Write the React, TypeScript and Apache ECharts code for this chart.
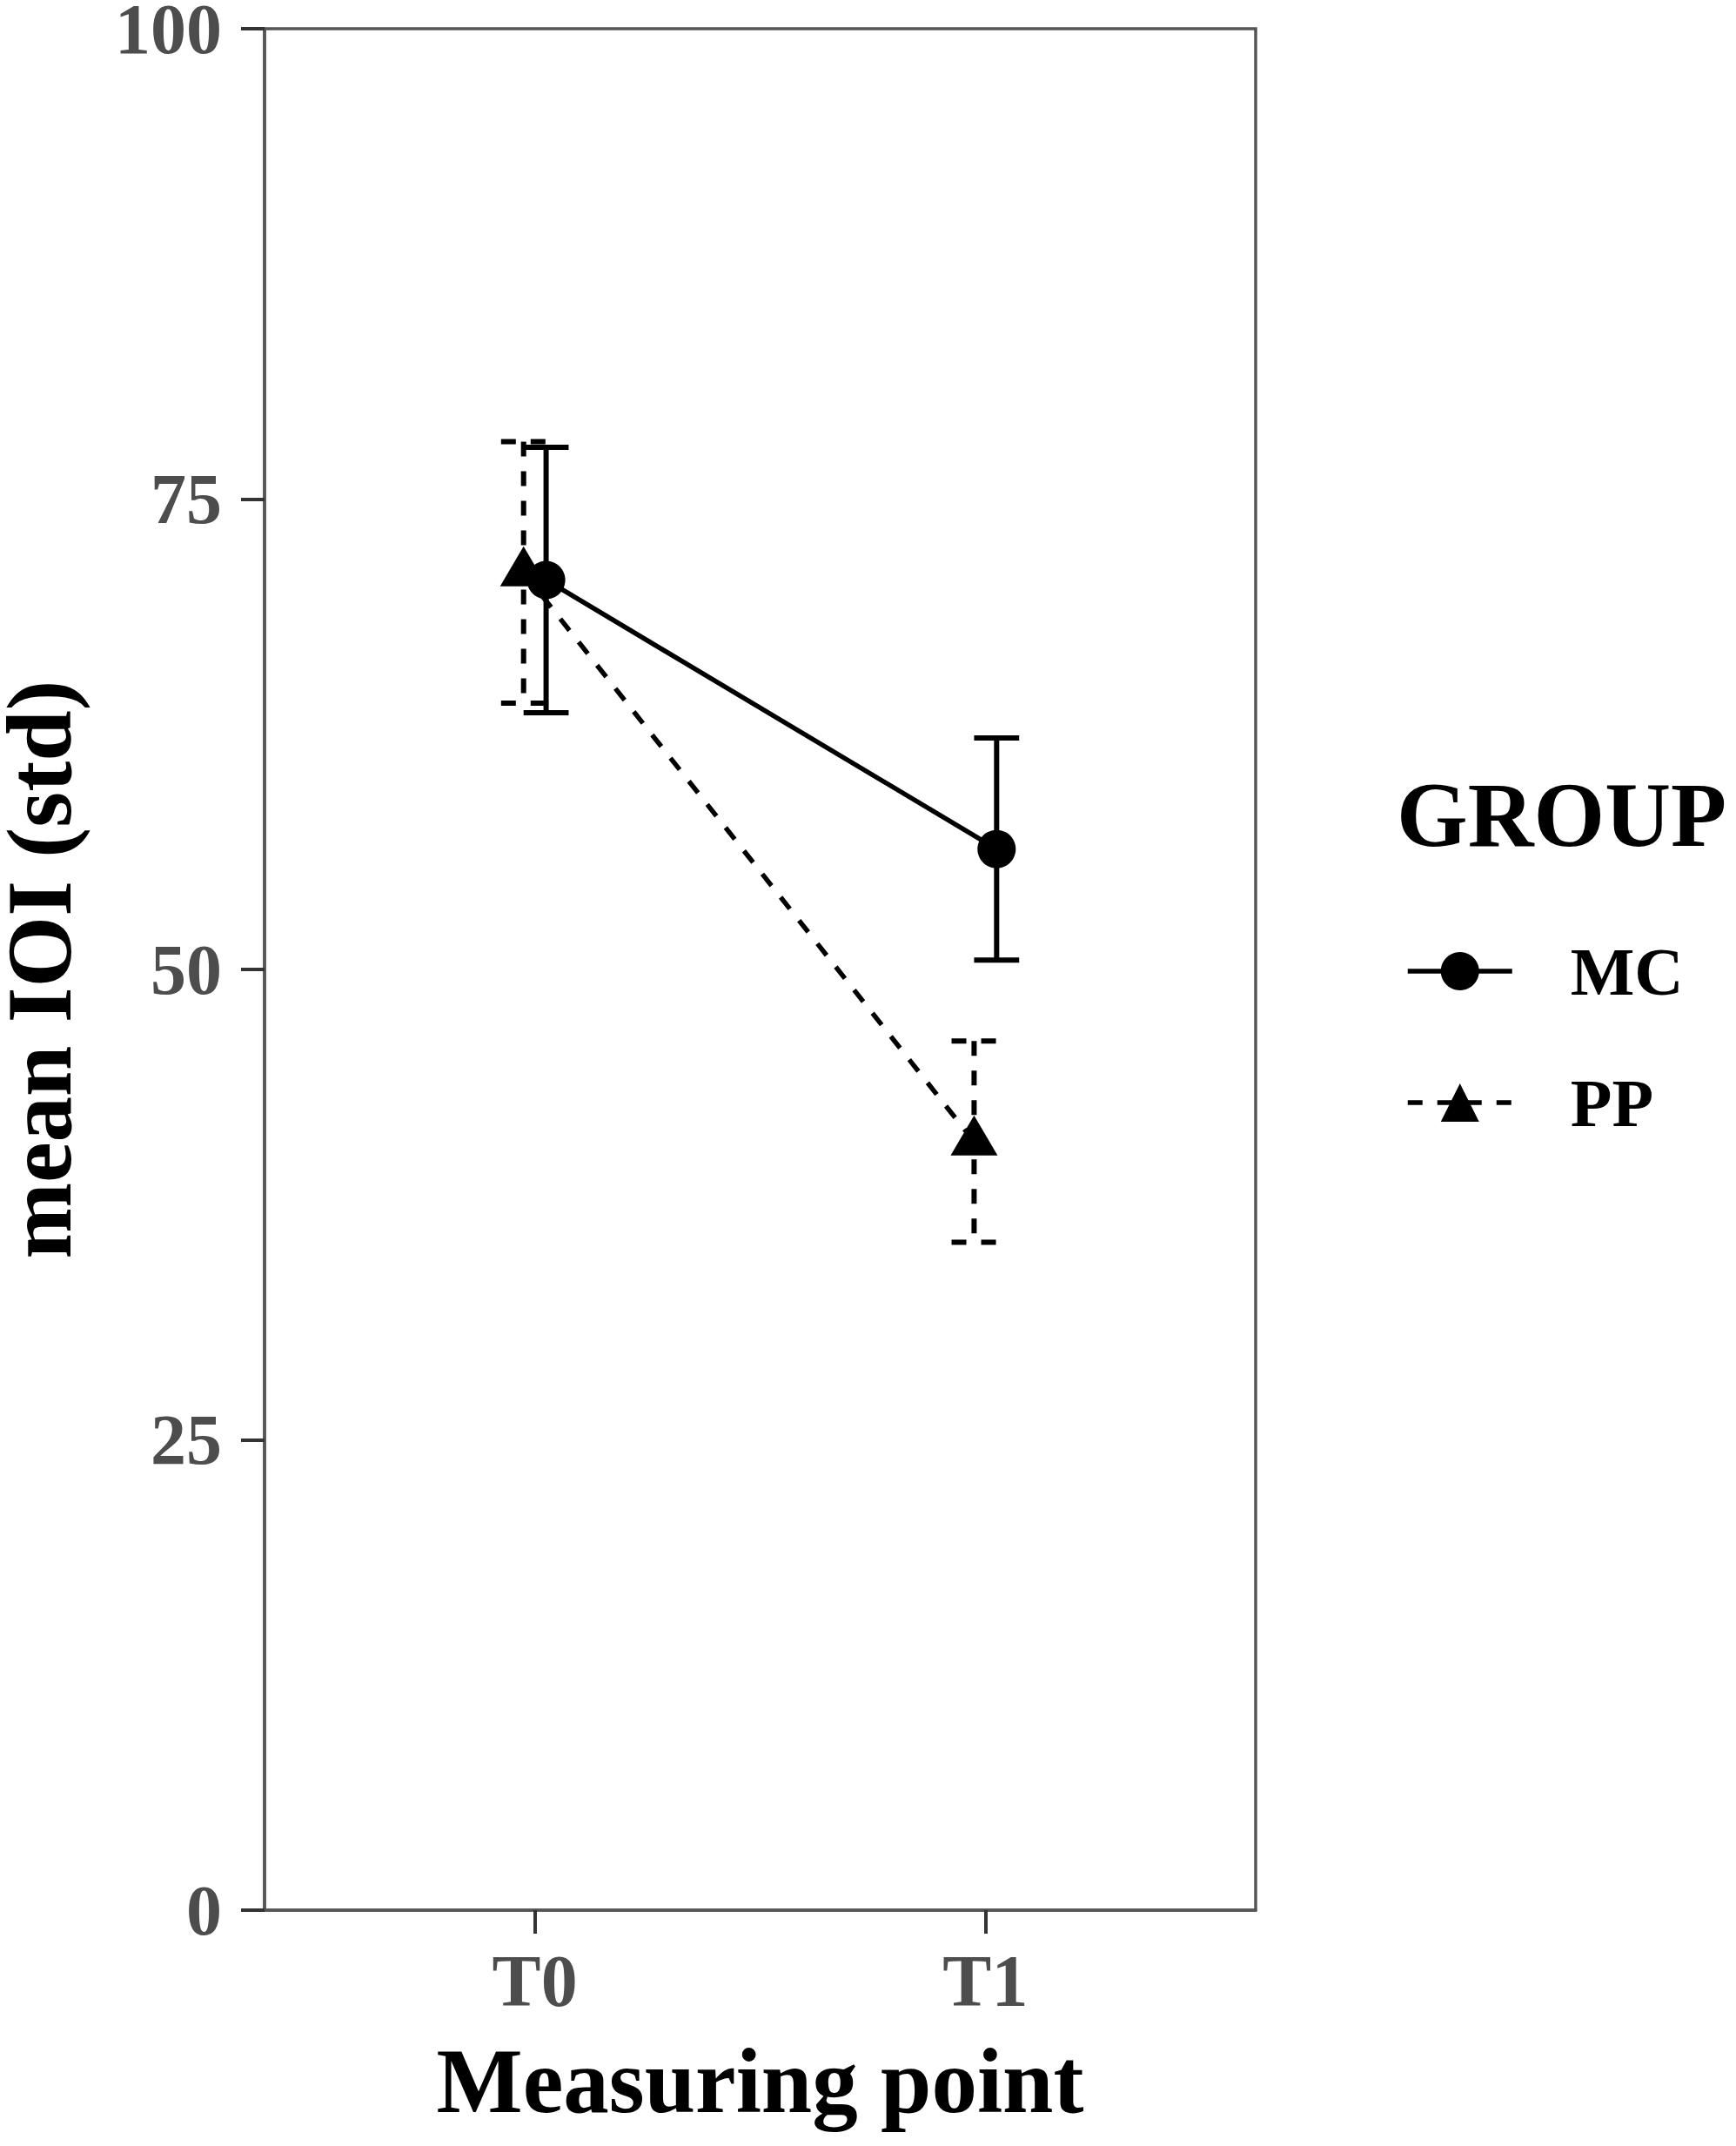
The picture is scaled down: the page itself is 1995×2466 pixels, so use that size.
import React, { useEffect, useRef } from "react";
import * as echarts from "echarts";

// ---- data ----
const categories = ["T0", "T1"];
const categoryPositions = [1, 2];
const groups = ["MC", "PP"];
const mcMeans = [70.7, 56.4];
const mcErrors = [7.05, 5.9];
const ppMeans = [71.1, 40.85];
const ppErrors = [6.95, 5.35];
const yTicks = [0, 25, 50, 75, 100];

const DODGE = 0.025;
const CAP_HALF = 0.05;
const FONT = "'Liberation Serif', 'Times New Roman', serif";
const DASH = [17, 17];

function errSeries(name: string, xs: number[], means: number[], errs: number[], dashed: boolean) {
  return {
    type: "custom",
    name: name + " err",
    silent: true,
    z: 2,
    data: xs.map((x, i) => [x, means[i] - errs[i], means[i] + errs[i]]),
    encode: { x: 0, y: [1, 2] },
    renderItem: (params: any, api: any) => {
      const x = api.value(0);
      const lo = api.value(1);
      const hi = api.value(2);
      const pLo = api.coord([x, lo]);
      const pHi = api.coord([x, hi]);
      const pL = api.coord([x - CAP_HALF, hi]);
      const pR = api.coord([x + CAP_HALF, hi]);
      const half = (pR[0] - pL[0]) / 2;
      const style: any = { stroke: "#000", lineWidth: 6, fill: null };
      if (dashed) style.lineDash = DASH;
      return {
        type: "group",
        children: [
          { type: "line", shape: { x1: pHi[0], y1: pHi[1], x2: pLo[0], y2: pLo[1] }, style },
          { type: "line", shape: { x1: pHi[0] - half, y1: pHi[1], x2: pHi[0] + half, y2: pHi[1] }, style },
          { type: "line", shape: { x1: pLo[0] - half, y1: pLo[1], x2: pLo[0] + half, y2: pLo[1] }, style },
        ],
      };
    },
  };
}

export default function App() {
  const ref = useRef<HTMLDivElement>(null);
  useEffect(() => {
    if (!ref.current) return;
    const chart = echarts.init(ref.current, undefined, { renderer: "svg" });
    const mcX = categoryPositions.map((p) => p + DODGE);
    const ppX = categoryPositions.map((p) => p - DODGE);
    chart.setOption({
      animation: false,
      backgroundColor: "#ffffff",
      grid: {
        left: 304,
        right: 552,
        top: 33,
        bottom: 271,
        containLabel: false,
        outerBoundsMode: "none",
        show: true,
        borderColor: "#555555",
        borderWidth: 3.5,
        backgroundColor: "transparent",
      },
      graphic: [
        {
          type: "text",
          left: 1605,
          top: 884,
          style: {
            text: "GROUP",
            font: `bold 105px ${FONT}`,
            fill: "#000",
          },
        },
      ],
      legend: {
        data: groups,
        orient: "vertical",
        left: 1610,
        top: 1072,
        itemWidth: 120,
        itemHeight: 55,
        itemGap: 73,
        lineStyle: { width: 5.5 },
        textStyle: {
          fontFamily: FONT,
          fontWeight: "bold",
          fontSize: 78,
          color: "#000",
          padding: [0, 0, 0, 62],
        },
      },
      xAxis: {
        type: "value",
        min: 0.4,
        max: 2.6,
        name: "Measuring point",
        nameLocation: "middle",
        nameGap: 196,
        nameTextStyle: {
          fontFamily: FONT,
          fontWeight: "bold",
          fontSize: 105,
          color: "#000",
          verticalAlign: "middle",
        },
        axisLine: { show: true, lineStyle: { color: "#555555", width: 3.5 } },
        axisTick: { show: true, length: 27, customValues: categoryPositions, lineStyle: { color: "#333333", width: 4 } },
        axisLabel: {
          customValues: categoryPositions,
          formatter: (v: number) => categories[Math.round(v) - 1] ?? "",
          fontFamily: FONT,
          fontWeight: "bold",
          fontSize: 84,
          color: "#4d4d4d",
          margin: 81,
          verticalAlign: "middle",
        },
        splitLine: { show: false },
      },
      yAxis: {
        type: "value",
        min: yTicks[0],
        max: yTicks[yTicks.length - 1],
        interval: 25,
        name: "mean IOI (std)",
        nameLocation: "middle",
        nameRotate: 90,
        nameGap: 259,
        nameTextStyle: {
          fontFamily: FONT,
          fontWeight: "bold",
          fontSize: 105,
          lineHeight: 84,
          color: "#000",
          verticalAlign: "middle",
        },
        axisLine: { show: true, lineStyle: { color: "#555555", width: 3.5 } },
        axisTick: { show: true, length: 27, lineStyle: { color: "#333333", width: 4 } },
        axisLabel: {
          fontFamily: FONT,
          fontWeight: "bold",
          fontSize: 82,
          lineHeight: 60,
          color: "#4d4d4d",
          margin: 49,
        },
        splitLine: { show: false },
      },
      series: [
        errSeries("MC", mcX, mcMeans, mcErrors, false),
        errSeries("PP", ppX, ppMeans, ppErrors, true),
        {
          type: "line",
          name: "MC",
          z: 3,
          data: mcX.map((x, i) => [x, mcMeans[i]]),
          symbol: "circle",
          symbolSize: 44,
          itemStyle: { color: "#000" },
          lineStyle: { color: "#000", width: 5.5, type: "solid" },
        },
        {
          type: "line",
          name: "PP",
          z: 3,
          data: ppX.map((x, i) => [x, ppMeans[i]]),
          symbol: "triangle",
          symbolSize: [54, 46],
          symbolOffset: [0, -7],
          itemStyle: { color: "#000" },
          lineStyle: { color: "#000", width: 5.5, type: DASH },
        },
      ],
    });
    return () => chart.dispose();
  }, []);
  return (
    <div
      ref={ref}
      style={{ position: "absolute", left: 0, top: 0, width: 1995, height: 2466, background: "#fff" }}
    />
  );
}
